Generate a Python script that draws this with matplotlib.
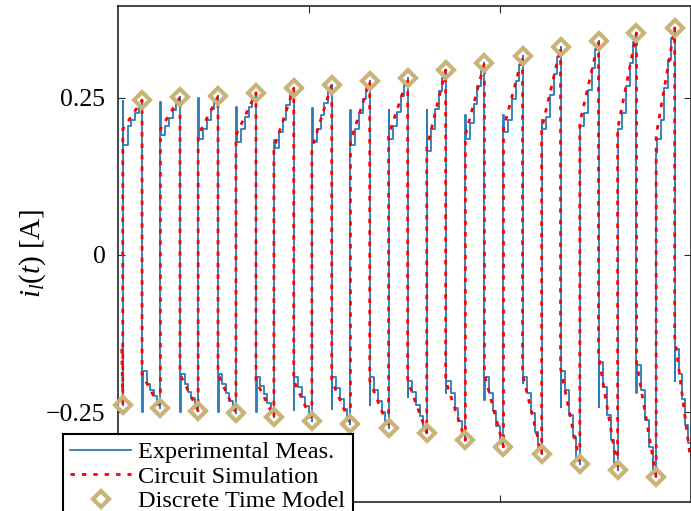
import numpy as np
import matplotlib
matplotlib.use('Agg')
import matplotlib.pyplot as plt

# Picos negativos (instante, corrente) - modelo de tempo discreto
bot_t = [0.025, 0.222, 0.420, 0.618, 0.817, 1.016, 1.218, 1.418, 1.618, 1.820,
         2.020, 2.220, 2.420, 2.618, 2.820]
bot_i = [-0.239, -0.244, -0.248, -0.252, -0.258, -0.264, -0.269, -0.276, -0.283, -0.295,
         -0.305, -0.317, -0.332, -0.342, -0.354]

# Picos positivos
top_t = [0.126, 0.325, 0.524, 0.723, 0.921, 1.120, 1.319, 1.518, 1.717, 1.920,
         2.120, 2.319, 2.518, 2.717, 2.917]
top_i = [0.246, 0.251, 0.252, 0.258, 0.265, 0.271, 0.276, 0.282, 0.294, 0.305,
         0.316, 0.330, 0.341, 0.353, 0.361]

# Simulação do circuito: valor logo após cada subida / descida
rise_i = [0.20, 0.20, 0.19, 0.19, 0.17, 0.17, 0.18, 0.19, 0.17, 0.19,
          0.20, 0.20, 0.21, 0.20, 0.19]
fall_i = [-0.19, -0.19, -0.19, -0.20, -0.20, -0.20, -0.20, -0.20, -0.20, -0.19,
          -0.19, -0.18, -0.16, -0.17, -0.13]

start_t, start_i = 0.02, -0.15
end_t, end_i = 3.0, -0.325

# Medição experimental: pico, acomodação e degraus de cada meia onda
rise_spk = [0.245, 0.244, 0.250, 0.236, 0.183, 0.234, 0.231, 0.231, 0.231, 0.223,
            0.223, 0.215, 0.172, 0.188, 0.162]
rise_set = [0.175, 0.190, 0.185, 0.180, 0.170, 0.180, 0.175, 0.185, 0.165, 0.185,
            0.195, 0.200, 0.205, 0.200, 0.185]
up_mid = [
    [0.205, 0.215, 0.225, 0.238],
    [0.205, 0.218, 0.230, 0.243],
    [0.200, 0.215, 0.232, 0.245],
    [0.200, 0.220, 0.235, 0.250],
    [0.195, 0.215, 0.238, 0.255],
    [0.200, 0.222, 0.242, 0.260],
    [0.200, 0.225, 0.248, 0.265],
    [0.205, 0.228, 0.252, 0.272],
    [0.200, 0.232, 0.260, 0.282],
    [0.210, 0.240, 0.268, 0.292],
    [0.215, 0.248, 0.276, 0.302],
    [0.220, 0.255, 0.288, 0.315],
    [0.225, 0.262, 0.298, 0.328],
    [0.225, 0.268, 0.305, 0.338],
    [0.215, 0.265, 0.310, 0.345],
]
fall_spk = [-0.250, -0.250, -0.250, -0.250, -0.247, -0.245, -0.239, -0.226, -0.220, -0.231,
            -0.204, -0.242, -0.242, -0.220, -0.200]
fall_set = [-0.185, -0.190, -0.190, -0.195, -0.195, -0.195, -0.195, -0.200, -0.200, -0.195,
            -0.195, -0.185, -0.170, -0.175, -0.150]
down_mid = [
    [-0.205, -0.215, -0.225, -0.232],
    [-0.205, -0.218, -0.228, -0.238],
    [-0.205, -0.220, -0.232, -0.242],
    [-0.208, -0.222, -0.236, -0.248],
    [-0.210, -0.226, -0.240, -0.253],
    [-0.212, -0.230, -0.245, -0.260],
    [-0.215, -0.233, -0.250, -0.265],
    [-0.218, -0.238, -0.257, -0.272],
    [-0.220, -0.243, -0.265, -0.285],
    [-0.220, -0.248, -0.272, -0.295],
    [-0.220, -0.252, -0.282, -0.308],
    [-0.215, -0.255, -0.290, -0.322],
    [-0.210, -0.255, -0.295, -0.332],
    [-0.215, -0.262, -0.305, -0.345],
    [-0.190, -0.230, -0.270, -0.300],
]

ytick_vals = [-0.25, 0, 0.25]
ytick_labels = ['\u22120.25', '0', '0.25']


def build_sim():
    t, v = [start_t], [start_i]
    for k in range(len(bot_t)):
        t += [bot_t[k], bot_t[k], top_t[k], top_t[k]]
        v += [bot_i[k], rise_i[k], top_i[k], fall_i[k]]
    t.append(end_t)
    v.append(end_i)
    return np.array(t), np.array(v)


def build_exp():
    # posição relativa de cada degrau dentro da meia onda
    frac = [0.0, 0.035, 0.25, 0.45, 0.63, 0.82]
    t, v = [start_t], [start_i]
    n = len(bot_t)
    for k in range(n):
        ts, te = bot_t[k], top_t[k]
        t.append(ts); v.append(bot_i[k])
        for f, val in zip(frac, [rise_spk[k], rise_set[k]] + up_mid[k]):
            t.append(ts + f * (te - ts)); v.append(val)
        t.append(te); v.append(top_i[k])
        ts2 = te
        te2 = bot_t[k + 1] if k < n - 1 else end_t
        for f, val in zip(frac, [fall_spk[k], fall_set[k]] + down_mid[k]):
            t.append(ts2 + f * (te2 - ts2)); v.append(val)
    t.append(end_t)
    v.append(end_i)
    return np.array(t), np.array(v)


def main():
    plt.rcParams['font.family'] = 'Liberation Serif'
    plt.rcParams['mathtext.fontset'] = 'custom'
    plt.rcParams['mathtext.rm'] = 'Liberation Serif'
    plt.rcParams['mathtext.it'] = 'Liberation Serif:italic'

    fig = plt.figure(figsize=(6.91, 5.11), dpi=100)
    ax = fig.add_axes([118 / 691, 1 - 501.7 / 511, 572.5 / 691, 496 / 511])

    te, ve = build_exp()
    ts, vs = build_sim()
    ax.plot(te, ve, drawstyle='steps-post', color='#2b7bb9', lw=1.3,
            label='Experimental Meas.')
    ax.plot(ts, vs, color='#ff0000', lw=2.0, ls=(0, (1.6, 2.5)),
            label='Circuit Simulation')
    ax.plot(bot_t + top_t, bot_i + top_i, ls='none', marker='D', ms=8,
            mfc='none', mec='#c8b478', mew=3, clip_on=False, zorder=5,
            label='Discrete Time Model')

    ax.set_xlim(0, 3)
    ax.set_ylim(-0.3926, 0.3964)
    ax.set_xticks([1, 2])
    ax.set_xticklabels([])
    ax.set_yticks(ytick_vals)
    ax.set_yticklabels(ytick_labels)
    ax.tick_params(direction='in', length=5, width=0.8, colors='#262626',
                   top=True, right=True, labelsize=18.5, pad=9, labelcolor='black')
    for s in ax.spines.values():
        s.set_linewidth(1.2)
        s.set_color('#262626')

    ax.set_ylabel(r'$i_l(t)$ [A]', fontsize=21)
    ax.yaxis.set_label_coords(-0.123, 0.5)

    leg = ax.legend(loc='upper left', bbox_to_anchor=(63 / 691, 1 - 434 / 511),
                    bbox_transform=fig.transFigure, borderaxespad=0,
                    fontsize=17.5, frameon=True, fancybox=False, framealpha=1,
                    edgecolor='black', handlelength=2.5, handletextpad=0.3,
                    borderpad=0.3, labelspacing=0.1)
    leg.get_frame().set_linewidth(1.5)
    leg.set_zorder(10)

    fig.savefig('out.png', dpi=100)


if __name__ == '__main__':
    main()
